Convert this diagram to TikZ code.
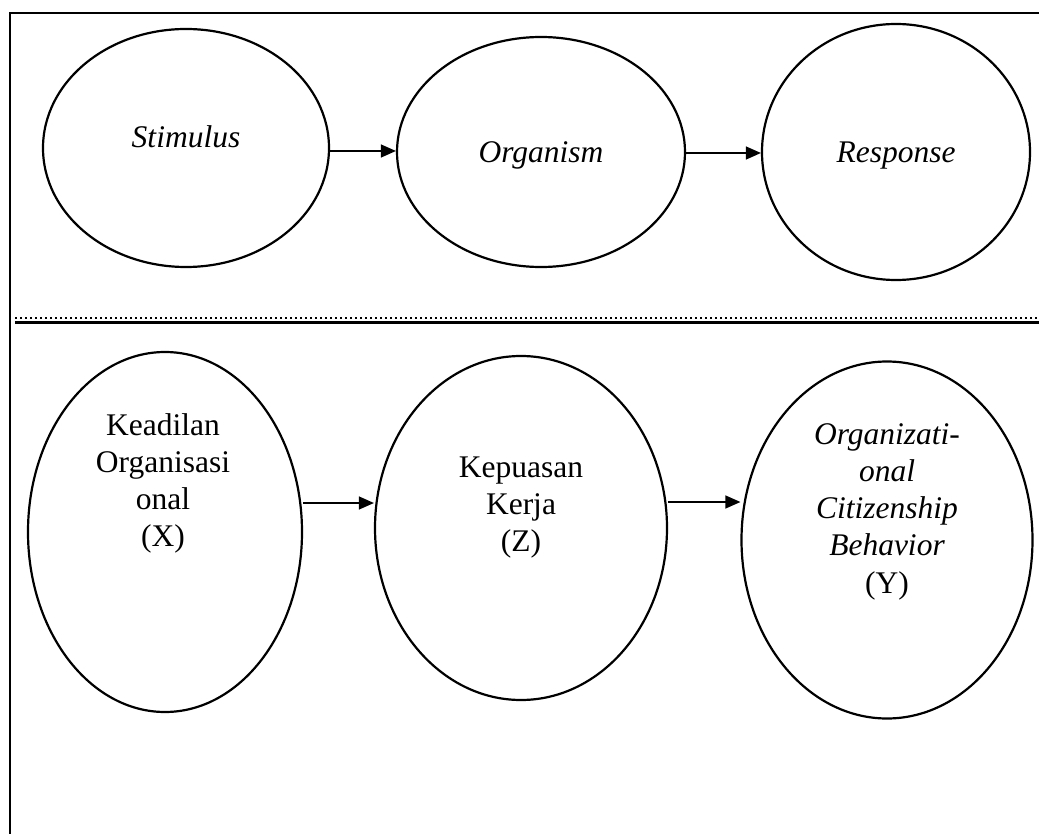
\documentclass[tikz,border=0pt]{standalone}
\usepackage{fontspec}
\setmainfont{Liberation Serif}
\usetikzlibrary{shapes.geometric,arrows.meta}
\begin{document}
\begin{tikzpicture}[x=1pt,y=-1pt,
  oval/.style={draw,ellipse,line width=2.2pt,inner sep=0pt},
  lbl/.style={align=center,anchor=base,font=\fontsize{31.5}{36.8}\selectfont},
  flow/.style={-{Triangle[length=15pt,width=13pt]},line width=1.2pt}]
\useasboundingbox (0,0) rectangle (1039,834);
% frame
\draw[line width=2.2pt] (10,834) -- (10,13) -- (1039,13);
% separator between the two models
\draw[line width=2.2pt,dash pattern=on 1.6pt off 3.4pt] (15,318) -- (1039,318);
\draw[line width=3.4pt] (15,322.5) -- (1039,322.5);
% S-O-R model
\node[oval,minimum width=286pt,minimum height=238pt] (s) at (186,148) {};
\node[oval,minimum width=288pt,minimum height=230pt] (o) at (541,152) {};
\node[oval,minimum width=268pt,minimum height=256pt] (r) at (896,152) {};
\node[lbl] (st) at (186,148) {\itshape Stimulus};
\node[lbl] (ot) at (541,163) {\itshape Organism};
\node[lbl] (rt) at (896,163) {\itshape Response};
\draw[flow] (s.east |- 0,151) -- (o.west |- 0,151);
\draw[flow] (o.east |- 0,153) -- (r.west |- 0,153);
% research model (labels anchored at the baseline of their last line)
\node[oval,minimum width=274pt,minimum height=360pt] (x) at (165,532) {};
\node[oval,minimum width=292pt,minimum height=344pt] (z) at (521,528) {};
\node[oval,minimum width=291pt,minimum height=357pt] (y) at (887,540) {};
\node[lbl] (xt) at (163,546) {Keadilan\\Organisasi\\onal\\(X)};
\node[lbl] (zt) at (521,551) {Kepuasan\\Kerja\\(Z)};
\node[lbl,font=\fontsize{31.5}{37.2}\selectfont] (yt) at (887,593) {\itshape Organizati-\\\itshape onal\\\itshape Citizenship\\\itshape Behavior\\(Y)};
\draw[flow] (x.east |- 0,503) -- (z.west |- 0,503);
\draw[flow] (z.east |- 0,502) -- (y.west |- 0,502);
\end{tikzpicture}
\end{document}
